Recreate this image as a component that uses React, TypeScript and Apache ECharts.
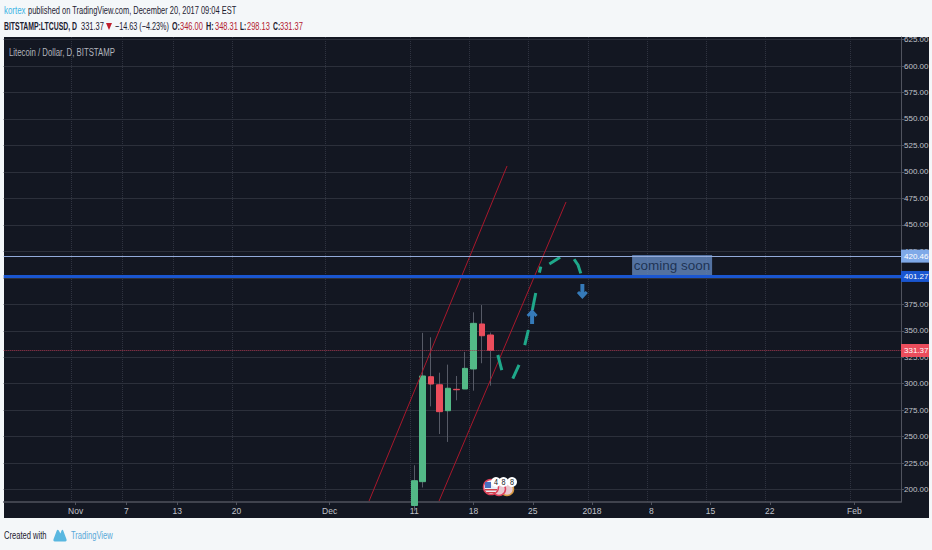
import React, { useEffect, useRef } from "react";
import * as echarts from "echarts";

const FONT = '"Liberation Sans", sans-serif';

const monthNames = ["Oct", "Nov", "Dec", "Jan", "Feb"];
const monthStarts = [24, 1, 1, 1, 1];
const monthEnds = [31, 30, 31, 31, 6];
const categories: string[] = [];
monthNames.forEach((m, i) => {
  for (let d = monthStarts[i]; d <= monthEnds[i]; d++) categories.push(`${m} ${d}`);
});

const tickDates = ["Nov 1", "Nov 7", "Nov 13", "Nov 20", "Dec 1", "Dec 11", "Dec 18", "Dec 25", "Jan 1", "Jan 8", "Jan 15", "Jan 22", "Feb 1"];
const tickLabels = ["Nov", "7", "13", "20", "Dec", "11", "18", "25", "2018", "8", "15", "22", "Feb"];

const priceTicks = [200, 225, 250, 275, 300, 325, 350, 375, 400, 425, 450, 475, 500, 525, 550, 575, 600, 625];

const candleDates = ["Dec 11", "Dec 12", "Dec 13", "Dec 14", "Dec 15", "Dec 16", "Dec 17", "Dec 18", "Dec 19", "Dec 20"];
const opens = [185, 207.5, 306.6, 299, 274.5, 294.7, 295, 313.9, 356.4, 346];
const closes = [208.4, 307.3, 299.7, 273.6, 295.7, 294.3, 314.5, 357, 345.3, 331.37];
const lows = [180, 202, 278.6, 252.5, 245, 284.3, 295, 293.4, 319.3, 298.13];
const highs = [223, 348, 343.8, 310.4, 318, 307.3, 330, 367.4, 374.3, 348.31];

const channelLeft = [[42.66, 189.2], [58.96, 505.6]];
const channelRight = [[50.93, 189.2], [65.93, 471.6]];
const forecastPath: (number | string)[][] = [
  [57.87, 327.1], [58.34, 312.9], ["-", "-"],
  [59.64, 304.9], [60.38, 317.7], ["-", "-"],
  [61.05, 336.5], [61.48, 350.7], ["-", "-"],
  [61.95, 369.6], [62.35, 385.6], ["-", "-"],
  [62.78, 404.8], [62.95, 410.5], ["-", "-"],
  [63.96, 413.0], [65.23, 419.4], ["-", "-"],
  [66.88, 417.5], [67.35, 412.1], [67.67, 404.2],
];
const arrowUp = [61.92, 363.5];
const arrowDown = [67.86, 387.1];
const noteAnchor = [78.46, 411.6];
const noteText = "coming soon";
const levelHigh = 420.46;
const levelMid = 401.27;
const levelLast = 331.37;

const LEFT = 3.7;
const PLOT_RIGHT = 901;
const TOP = 37;
const BOTTOM = 502;
const ARROW = "path://M5,0 L10,6 L8,8 L6.8,6.6 L6.8,15 L3.2,15 L3.2,6.6 L2,8 L0,6 Z";

const LOGO = "M2,10 L6,3 Q7,1.5 8.5,3 L10.5,5.5 L12,3 Q13,1.5 14,3 L18,10 Q19,12 16.5,12 L3.5,12 Q1,12 2,10 Z";
echarts.graphic.registerShape("tvlogo", echarts.graphic.extendPath(LOGO, {}) as any);

function text(x: number, y: number, t: string, fill: string, scaleX = 0.67, extra: any = {}) {
  return {
    type: "text",
    x,
    y,
    scaleX,
    silent: true,
    z: 20,
    style: { text: t, fill, font: `11px ${FONT}`, verticalAlign: "middle", ...extra },
  };
}

export default function App() {
  const ref = useRef<HTMLDivElement>(null);
  useEffect(() => {
    document.body.style.margin = "0";
    const chart = echarts.init(ref.current!, undefined, { renderer: "svg" });
    const bold = { font: `bold 11px ${FONT}` };
    const red = "#a8182c";
    const dark = "#1c2030";
    const wick = "#565a66";
    const wickData = candleDates.map((d, i) => [d, opens[i], closes[i], lows[i], highs[i]]);
    const bodyData = candleDates.map((d, i) => [
      d, opens[i], closes[i], Math.min(opens[i], closes[i]), Math.max(opens[i], closes[i]),
    ]);
    const encode = { x: 0, y: [1, 2, 3, 4] };
    const priceLabel = (bg: string, h: number) => ({
      show: true,
      position: "end",
      distance: 0,
      formatter: (p: any) => Number(p.value).toFixed(2),
      backgroundColor: bg,
      color: "#ffffff",
      fontFamily: FONT,
      fontSize: 8,
      width: 25,
      height: h,
      lineHeight: h,
      padding: [0, 0, 0, 3],
      align: "left",
    });
    const isTick = (_i: number, v: string) => tickDates.includes(v);
    chart.setOption({
      animation: false,
      backgroundColor: "#f4f7f9",
      grid: { left: LEFT, top: TOP, width: PLOT_RIGHT - LEFT, height: BOTTOM - TOP, containLabel: false },
      xAxis: [
        {
          type: "category",
          data: categories,
          boundaryGap: true,
          axisLine: { lineStyle: { color: "#50535e", width: 1.5 } },
          axisTick: { show: true, alignWithLabel: true, length: 3, lineStyle: { color: "#50535e" }, interval: isTick },
          axisLabel: {
            color: "#c0c3cb", fontFamily: FONT, fontSize: 8.5, margin: 4, interval: isTick,
            formatter: (v: string) => tickLabels[tickDates.indexOf(v)] ?? "",
          },
          splitLine: { show: true, lineStyle: { color: "#2f3340", type: "dotted" }, interval: isTick },
        },
        { type: "value", min: -0.5, max: categories.length - 0.5, show: false },
      ],
      yAxis: {
        type: "value",
        position: "right",
        min: 200 + (489.6 - BOTTOM) / 1.059,
        max: 200 + (489.6 - TOP) / 1.059,
        axisLine: { show: true, onZero: false, lineStyle: { color: "#50535e", width: 1 } },
        axisTick: { show: true, length: 3, lineStyle: { color: "#50535e" }, customValues: priceTicks },
        axisLabel: {
          color: "#c0c3cb", fontFamily: FONT, fontSize: 8, margin: 3, customValues: priceTicks,
          formatter: (v: number) => v.toFixed(2),
          showMinLabel: true, showMaxLabel: true,
        },
        splitLine: { show: true, lineStyle: { color: "#2c303b", width: 1 } },
      },
      series: [
        {
          type: "candlestick", name: "wicks", data: wickData, encode, barWidth: 1, z: 3,
          itemStyle: { color: wick, color0: wick, borderColor: wick, borderColor0: wick, borderWidth: 1 },
        },
        {
          type: "candlestick", name: "LTCUSD", data: bodyData, encode, barWidth: 6, z: 4,
          itemStyle: { color: "#53b987", color0: "#eb4d5c", borderColor: "#53b987", borderColor0: "#eb4d5c", borderWidth: 1 },
        },
        {
          type: "line", xAxisIndex: 1, data: channelLeft, symbol: "none", z: 5,
          lineStyle: { color: red, width: 1 },
          markLine: {
            silent: true, symbol: "none", z: 30, animation: false,
            data: [
              { yAxis: levelHigh, lineStyle: { color: "#93abdb", width: 1, type: "solid" }, label: priceLabel("#7fa9e8", 13) },
              { yAxis: levelMid, lineStyle: { color: "#1a56d0", width: 3, type: "solid" }, label: priceLabel("#1a56d0", 11) },
              { yAxis: levelLast, lineStyle: { color: "#a83a50", width: 1, type: "dotted" }, label: priceLabel("#eb4d5c", 13) },
            ],
          },
        },
        { type: "line", xAxisIndex: 1, data: channelRight, symbol: "none", z: 5, lineStyle: { color: red, width: 1 } },
        {
          type: "line", xAxisIndex: 1, data: forecastPath, symbol: "none", z: 6, connectNulls: false,
          lineStyle: { color: "#1fa88a", width: 3 },
        },
        {
          type: "scatter", xAxisIndex: 1, z: 7, symbol: ARROW, symbolSize: [11, 15],
          itemStyle: { color: "#3f93e0" },
          data: [
            { value: arrowUp, symbolRotate: 0 },
            { value: arrowDown, symbolRotate: 180 },
          ],
        },
        {
          type: "scatter", xAxisIndex: 1, z: 8, symbolSize: 1, itemStyle: { color: "transparent" },
          data: [noteAnchor],
          label: {
            show: true, position: "inside", formatter: noteText, color: "#10233f", fontFamily: FONT, fontSize: 13.5,
            backgroundColor: "#6489c2", width: 80, height: 21, lineHeight: 21, align: "center", verticalAlign: "middle",
          },
        },
      ],
      graphic: [
        { type: "rect", z: -10, silent: true, shape: { x: 4, y: 37, width: 925, height: 481 }, style: { fill: "#131722" } },
        text(4, 10, "kortex", "#3bb3e4", 0.72),
        text(28, 10, "published on TradingView.com, December 20, 2017 09:04 EST", dark, 0.68),
        text(4, 26, "BITSTAMP:LTCUSD, D", dark, 0.625, bold),
        text(81, 26, "331.37", dark, 0.68),
        { type: "polygon", z: 20, silent: true, shape: { points: [[106, 23], [112, 23], [109, 30]] }, style: { fill: "#c01f2e" } },
        text(115, 26, "−14.63 (−4.23%)", dark, 0.66),
        text(172, 26, "O:", dark, 0.65, bold),
        text(180, 26, "346.00", "#b3202f", 0.68),
        text(206, 26, "H:", dark, 0.66, bold),
        text(215, 26, "348.31", "#b3202f", 0.68),
        text(240, 26, "L:", dark, 0.6, bold),
        text(247, 26, "298.13", "#b3202f", 0.68),
        text(273, 26, "C:", dark, 0.62, bold),
        text(280, 26, "331.37", "#b3202f", 0.68),
        text(9, 52, "Litecoin / Dollar, D, BITSTAMP", "#b2b5be", 0.71),
        text(4, 535, "Created with", dark, 0.69),
        { type: "tvlogo", z: 20, silent: true, x: 52, y: 527, scaleX: 0.8, scaleY: 1.2, style: { fill: "#58b7e0" } },
        text(71, 535, "TradingView", "#58a8d8", 0.69),
        { type: "circle", z: 22, silent: true, shape: { cx: 491, cy: 487, r: 7.5 }, style: { fill: "#e8eef5", stroke: "#e0405a", lineWidth: 1.5 } },
        { type: "circle", z: 21, silent: true, shape: { cx: 499, cy: 489, r: 6.5 }, style: { fill: "#e8c8d0", stroke: "#e0405a", lineWidth: 1.5 } },
        { type: "circle", z: 20, silent: true, shape: { cx: 507, cy: 489, r: 6.5 }, style: { fill: "#e8c8d0", stroke: "#d89a40", lineWidth: 1.5 } },
        { type: "rect", z: 23, silent: true, shape: { x: 485, y: 482, width: 6, height: 6 }, style: { fill: "#4a6fc0" } },
        { type: "rect", z: 23, silent: true, shape: { x: 485, y: 489, width: 12, height: 1.5 }, style: { fill: "#d0404a" } },
        { type: "rect", z: 23, silent: true, shape: { x: 487, y: 492, width: 8, height: 1.2 }, style: { fill: "#d0404a" } },
        { type: "circle", z: 24, silent: true, shape: { cx: 496, cy: 482, r: 5 }, style: { fill: "#ffffff" } },
        { type: "circle", z: 24, silent: true, shape: { cx: 503.5, cy: 482, r: 5 }, style: { fill: "#ffffff" } },
        { type: "circle", z: 24, silent: true, shape: { cx: 512, cy: 482, r: 5 }, style: { fill: "#ffffff" } },
        { ...text(494, 482, "4", "#131722", 0.8, { font: `9px ${FONT}` }), z: 25 },
        { ...text(501.5, 482, "8", "#131722", 0.8, { font: `9px ${FONT}` }), z: 25 },
        { ...text(510, 482, "8", "#131722", 0.8, { font: `9px ${FONT}` }), z: 25 },
      ],
    });
    return () => chart.dispose();
  }, []);
  return <div ref={ref} style={{ position: "fixed", left: 0, top: 0, width: 932, height: 550 }} />;
}
